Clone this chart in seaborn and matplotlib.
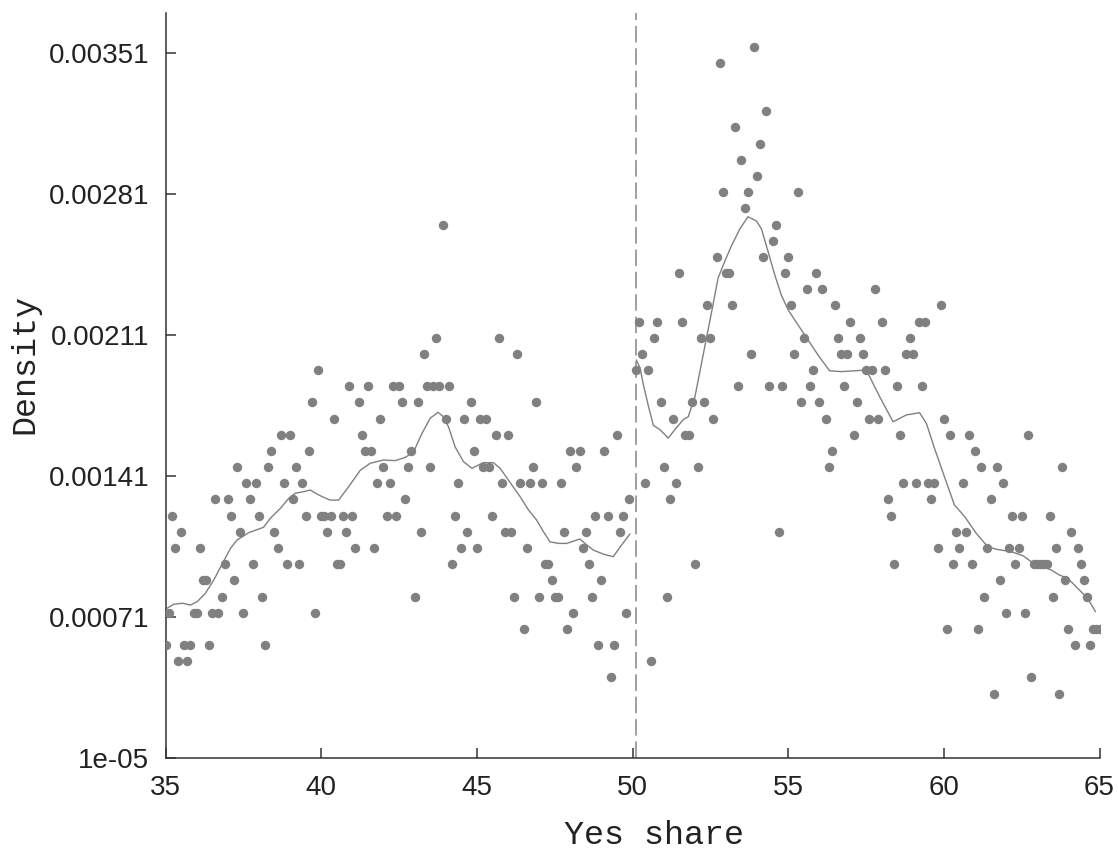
import numpy as np
import pandas as pd
import matplotlib
matplotlib.use("Agg")
import matplotlib.pyplot as plt
import seaborn as sns

# ---------------- data ----------------
# bins of width 0.1: left side 35.0 .. 49.9, right side 50.1 .. 65.0
left_start = 35.0
right_start = 50.1
bin_width = 0.1
cutoff = 50.1

# binned densities, in units of 1e-6
left_density_e6 = [
    568, 729, 1211, 1050, 488, 1130, 568, 488, 568, 729,
    729, 1050, 890, 890, 568, 729, 1291, 729, 809, 970,
    1291, 1211, 890, 1452, 1130, 729, 1371, 1291, 970, 1371,
    1211, 809, 568, 1452, 1532, 1130, 1050, 1612, 1371, 970,
    1612, 1291, 1452, 970, 1371, 1211, 1532, 1773, 729, 1933,
    1211, 1211, 1130, 1211, 1693, 970, 970, 1211, 1130, 1853,
    1211, 1050, 1773, 1612, 1532, 1853, 1532, 1050, 1371, 1693,
    1452, 1211, 1371, 1853, 1211, 1853, 1773, 1291, 1452, 1532,
    809, 1773, 1130, 2014, 1853, 1452, 1853, 2094, 1853, 2656,
    1693, 1853, 970, 1211, 1371, 1050, 1693, 1130, 1773, 1532,
    1050, 1693, 1452, 1693, 1452, 1211, 1612, 2094, 1371, 1130,
    1612, 1130, 809, 2014, 1371, 649, 1050, 1371, 1452, 1773,
    809, 1371, 970, 970, 890, 809, 809, 1371, 1130, 649,
    1532, 729, 1452, 1532, 1050, 1130, 970, 809, 1211, 568,
    890, 1532, 1211, 408, 568, 1612, 1130, 1211, 729, 1291,
]
right_density_e6 = [
    1933, 2174, 2014, 1371, 1933, 488, 2094, 2174, 1773, 1452,
    809, 1291, 1693, 1371, 2415, 2174, 1612, 1612, 1773, 970,
    1452, 2094, 1773, 2255, 2094, 1693, 2496, 3459, 2817, 2415,
    2415, 2255, 3138, 1853, 2977, 2736, 2817, 2014, 3539, 2897,
    3058, 2496, 3218, 1853, 2576, 2656, 1130, 1853, 2415, 2496,
    2255, 2014, 2817, 1773, 2094, 2335, 1853, 1933, 2415, 1773,
    2335, 1693, 1452, 1532, 2255, 2094, 2014, 1853, 2014, 2174,
    1612, 1773, 2094, 2014, 1933, 1693, 1933, 2335, 1693, 2174,
    1933, 1291, 1211, 970, 1853, 1612, 1371, 2014, 2094, 2014,
    1371, 2174, 1853, 2174, 1371, 1291, 1371, 1050, 2255, 1693,
    649, 1612, 970, 1130, 1050, 1371, 1130, 1612, 970, 1532,
    649, 1452, 809, 1050, 1291, 327, 1452, 890, 1371, 729,
    1050, 1211, 970, 1050, 1211, 729, 1612, 408, 970, 970,
    970, 970, 970, 1211, 809, 1050, 327, 1452, 890, 649,
    1130, 568, 1050, 970, 890, 809, 568, 649, 649, 649,
]

# smoothed fit, left and right of the cutoff (density in 1e-6)
left_fit_x = [35.05, 35.27, 35.54, 35.80, 36.02, 36.28, 36.55, 36.82, 37.09, 37.30,
              37.67, 38.15, 38.37, 38.69, 38.96, 39.17, 39.44, 39.65, 39.87, 40.03,
              40.29, 40.56, 40.88, 41.26, 41.58, 42.00, 42.38, 42.70, 42.97, 43.24,
              43.50, 43.75, 43.93, 44.09, 44.30, 44.57, 44.84, 45.21, 45.53, 45.75,
              46.01, 46.39, 46.66, 46.92, 47.14, 47.35, 47.62, 47.89, 48.31, 48.47,
              48.74, 49.06, 49.38, 49.65, 49.92]
left_fit_e6 = [751, 771, 776, 767, 784, 825, 891, 971, 1049, 1090,
               1126, 1153, 1198, 1247, 1297, 1322, 1330, 1338, 1318, 1305,
               1288, 1288, 1354, 1437, 1471, 1487, 1484, 1500, 1528, 1620,
               1694, 1724, 1702, 1652, 1553, 1479, 1446, 1474, 1474, 1446,
               1388, 1305, 1239, 1189, 1131, 1081, 1073, 1073, 1095, 1073,
               1040, 1020, 1007, 1065, 1120]
right_fit_x = [50.12, 50.24, 50.35, 50.51, 50.67, 50.88, 51.15, 51.36, 51.63, 51.79,
               52.00, 52.27, 52.54, 52.75, 52.97, 53.18, 53.45, 53.71, 53.98, 54.14,
               54.36, 54.57, 54.78, 55.00, 55.32, 55.64, 55.96, 56.33, 56.71, 57.14,
               57.51, 57.94, 58.37, 58.80, 59.22, 59.44, 59.70, 60.02, 60.34, 60.67,
               61.04, 61.41, 61.68, 62.16, 62.54, 62.81, 63.13, 63.45, 63.71, 63.98,
               64.30, 64.62, 64.87]
right_fit_e6 = [1984, 1946, 1861, 1755, 1659, 1638, 1596, 1638, 1687, 1702,
                1797, 2009, 2222, 2391, 2476, 2551, 2635, 2695, 2674, 2635,
                2519, 2406, 2306, 2232, 2157, 2083, 2008, 1930, 1926, 1930,
                1934, 1801, 1677, 1711, 1722, 1669, 1545, 1404, 1264, 1206,
                1123, 1057, 1044, 1032, 1012, 982, 961, 941, 916, 900,
                850, 800, 734]

x_ticks = [35, 40, 45, 50, 55, 60, 65]
y_ticks = [0.00001, 0.00071, 0.00141, 0.00211, 0.00281, 0.00351]
y_tick_labels = ["1e-05", "0.00071", "0.00141", "0.00211", "0.00281", "0.00351"]

# ---------------- tables ----------------
n_left = len(left_density_e6)
n_right = len(right_density_e6)
points = pd.DataFrame({
    "share": np.concatenate([np.round(left_start + bin_width * np.arange(n_left), 1),
                             np.round(right_start + bin_width * np.arange(n_right), 1)]),
    "density": np.array(left_density_e6 + right_density_e6) * 1e-6,
})
fit_left = pd.DataFrame({"share": left_fit_x, "density": np.array(left_fit_e6) * 1e-6})
fit_right = pd.DataFrame({"share": right_fit_x, "density": np.array(right_fit_e6) * 1e-6})

# ---------------- plot ----------------
sns.set_style("ticks")
plt.rcParams["font.family"] = ["Liberation Sans", "DejaVu Sans"]

W, H = 1118, 850
fig = plt.figure(figsize=(W / 100, H / 100), dpi=100)
ax_left, ax_right, ax_top, ax_bot = 165.5, 1099.5, 13.3, 757.5
ax = fig.add_axes([ax_left / W, 1 - ax_bot / H, (ax_right - ax_left) / W, (ax_bot - ax_top) / H])

grey = "#808080"
ax.axvline(cutoff, color="#a0a0a0", lw=1.4, dashes=(8.5, 3.0), zorder=1)
sns.scatterplot(data=points, x="share", y="density", color=grey, s=46,
                linewidth=0, ax=ax, zorder=3, legend=False)
sns.lineplot(data=fit_left, x="share", y="density", color=grey, lw=1.0,
             estimator=None, sort=True, ax=ax, zorder=2)
sns.lineplot(data=fit_right, x="share", y="density", color=grey, lw=1.0,
             estimator=None, sort=True, ax=ax, zorder=2)

ax.set_xlim(35, 65)
ax.set_ylim(0.00001, 0.003705)
ax.set_xticks(x_ticks)
ax.set_xticklabels([str(t) for t in x_ticks])
ax.set_yticks(y_ticks)
ax.set_yticklabels(y_tick_labels)

for side in ["top", "right"]:
    ax.spines[side].set_visible(False)
for side in ["left", "bottom"]:
    ax.spines[side].set_color("#333333")
    ax.spines[side].set_linewidth(1.1)

ax.tick_params(axis="both", direction="in", length=7, width=1.1, color="#333333",
               labelsize=20, labelcolor="#222222")
ax.tick_params(axis="x", pad=12.7)
ax.tick_params(axis="y", pad=11.7)

mono = ["Liberation Mono", "DejaVu Sans Mono"]
ax.set_xlabel("Yes share", fontfamily=mono, fontsize=24, color="#222222")
ax.set_ylabel("Density", fontfamily=mono, fontsize=24, color="#222222")
ax.xaxis.label.set_verticalalignment("baseline")
ax.xaxis.set_label_coords((654 - ax_left) / (ax_right - ax_left),
                          (ax_bot - 844.3) / (ax_bot - ax_top))
ax.yaxis.label.set_verticalalignment("baseline")
ax.yaxis.set_label_coords((33.3 - ax_left) / (ax_right - ax_left),
                          (ax_bot - 364) / (ax_bot - ax_top))

fig.savefig("out.png", dpi=100)
